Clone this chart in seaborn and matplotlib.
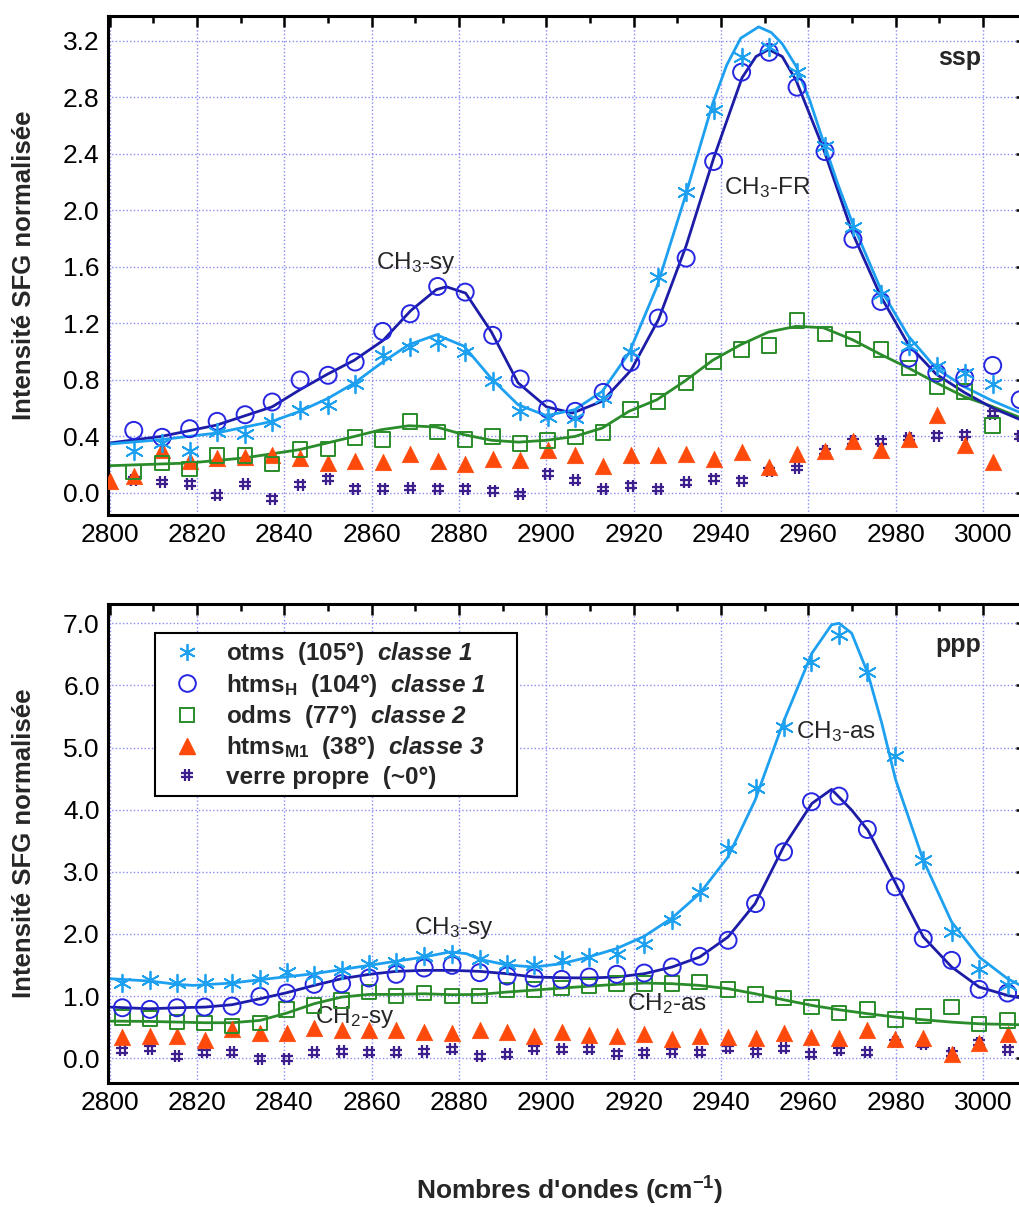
import matplotlib
matplotlib.use("Agg")
import matplotlib.pyplot as plt
from matplotlib.path import Path
from matplotlib.lines import Line2D
from matplotlib.ticker import MultipleLocator, FormatStrFormatter
import seaborn as sns

# ---------------- ssp panel (top) ----------------
ssp_x = [2805.5, 2812, 2818.3, 2824.6, 2831, 2837.2, 2843.6, 2850, 2856.2, 2862.5,
         2868.8, 2875.1, 2881.4, 2887.7, 2894, 2900.3, 2906.6, 2913, 2919.3, 2925.6,
         2932, 2938.3, 2944.7, 2951, 2957.4, 2963.8, 2970.2, 2976.6, 2983, 2989.4,
         2995.8, 3002.2]
ssp_otms = [0.30, 0.354, 0.30, 0.43, 0.42, 0.50, 0.59, 0.62, 0.77, 0.98,
            1.03, 1.07, 1.00, 0.79, 0.58, 0.54, 0.53, 0.67, 1.00, 1.53,
            2.13, 2.71, 3.09, 3.16, 2.98, 2.46, 1.88, 1.41, 1.04, 0.90,
            0.85, 0.77]
ssp_htmsH = [0.443, 0.394, 0.455, 0.507, 0.554, 0.644, 0.80, 0.833, 0.927, 1.144,
             1.269, 1.462, 1.422, 1.116, 0.807, 0.594, 0.578, 0.712, 0.925, 1.238,
             1.663, 2.347, 2.979, 3.12, 2.873, 2.417, 1.797, 1.356, 0.955, 0.849,
             0.814, 0.903, 0.66]
ssp_odms = [0.149, 0.212, 0.170, 0.264, 0.264, 0.205, 0.307, 0.311, 0.394, 0.377,
            0.507, 0.432, 0.377, 0.401, 0.352, 0.373, 0.396, 0.429, 0.590, 0.649,
            0.778, 0.932, 1.014, 1.045, 1.222, 1.127, 1.090, 1.014, 0.884, 0.755,
            0.719, 0.476]
ssp_htmsM1 = [0.083, 0.12, 0.307, 0.224, 0.248, 0.252, 0.271, 0.248, 0.212, 0.229, 0.219,
              0.278, 0.224, 0.205, 0.241, 0.233, 0.302, 0.267, 0.189, 0.271, 0.271,
              0.278, 0.241, 0.290, 0.184, 0.278, 0.295, 0.366, 0.307, 0.382, 0.554,
              0.342, 0.217]
ssp_verre = [0.094, 0.078, 0.066, -0.017, 0.064, -0.040, 0.059, 0.101, 0.031, 0.031,
             0.035, 0.031, 0.031, 0.017, -0.007, 0.137, 0.090, 0.028, 0.052, 0.028,
             0.075, 0.101, 0.087, 0.158, 0.177, 0.295, 0.366, 0.366, 0.389, 0.406,
             0.413, 0.561, 0.40]

# fitted curves
ssp_fit_otms_x = [2800, 2811.7, 2824.4, 2837.2, 2843.5, 2850, 2856, 2862.2, 2868.5, 2874.8,
                  2881.1, 2887.4, 2893.5, 2900, 2906.5, 2912.8, 2918.9, 2925.3, 2931.6, 2938.1,
                  2941.3, 2944.5, 2948.6, 2951.5, 2954, 2957.2, 2960.3, 2963.4, 2966.7, 2970.1,
                  2976.6, 2982.9, 2989.3, 2995.8, 3002.3, 3010]
ssp_fit_otms_y = [0.347, 0.377, 0.424, 0.507, 0.578, 0.67, 0.778, 0.92, 1.05, 1.12,
                  1.04, 0.81, 0.625, 0.547, 0.59, 0.72, 0.99, 1.46, 2.08, 2.76,
                  3.03, 3.22, 3.30, 3.26, 3.18, 3.02, 2.78, 2.49, 2.19, 1.91,
                  1.44, 1.11, 0.88, 0.75, 0.65, 0.55]
ssp_fit_htmsH_x = [2800, 2811.7, 2824.4, 2837.2, 2843.5, 2849.8, 2856, 2862.6, 2868.9, 2874.8,
                   2877.1, 2881.5, 2887.4, 2893.5, 2900, 2906, 2912.8, 2919.4, 2925.7, 2932,
                   2938.4, 2944.8, 2948, 2950.9, 2954, 2957.2, 2963.4, 2970.1, 2976.6, 2982.9,
                   2989.3, 2995.8, 3002.3, 3010]
ssp_fit_htmsH_y = [0.354, 0.40, 0.48, 0.61, 0.73, 0.84, 0.94, 1.08, 1.29, 1.44,
                   1.46, 1.415, 1.14, 0.78, 0.61, 0.566, 0.65, 0.87, 1.23, 1.75,
                   2.38, 2.94, 3.09, 3.14, 3.09, 2.92, 2.44, 1.84, 1.39, 1.05,
                   0.84, 0.71, 0.60, 0.50]
ssp_fit_odms_x = [2800, 2818.1, 2830.8, 2843.5, 2856, 2862.2, 2868.5, 2874.8, 2881.1, 2887.4,
                  2893.6, 2900, 2906.5, 2912.8, 2918.9, 2925.3, 2931.6, 2938.1, 2944.5, 2950.9,
                  2957.2, 2963.4, 2970.1, 2976.6, 2982.9, 2989.3, 2995.8, 3002.3, 3008]
ssp_fit_odms_y = [0.193, 0.212, 0.248, 0.307, 0.40, 0.448, 0.476, 0.467, 0.413, 0.373,
                  0.36, 0.373, 0.40, 0.46, 0.578, 0.66, 0.79, 0.94, 1.05, 1.14,
                  1.18, 1.17, 1.085, 0.98, 0.885, 0.78, 0.68, 0.61, 0.54]

# ---------------- ppp panel (bottom) ----------------
ppp_x = [2802.9, 2809.2, 2815.4, 2821.7, 2828.0, 2834.4, 2840.5, 2846.8, 2853.1, 2859.4,
         2865.6, 2872.0, 2878.4, 2884.7, 2891.0, 2897.2, 2903.5, 2909.8, 2916.1, 2922.4,
         2928.8, 2935.1, 2941.6, 2947.9, 2954.3, 2960.7, 2967.0, 2973.5, 2979.9, 2986.3,
         2992.8, 2999.1, 3005.6]
ppp_otms = [1.209, 1.252, 1.214, 1.214, 1.209, 1.279, 1.386, 1.333, 1.424, 1.521,
            1.548, 1.644, 1.682, 1.601, 1.521, 1.494, 1.574, 1.628, 1.682, 1.832,
            2.219, 2.676, 3.375, 4.342, 5.336, 6.384, 6.814, 6.223, 4.868, 3.186,
            2.031, 1.440, 1.171]
ppp_htmsH = [0.811, 0.785, 0.811, 0.822, 0.838, 0.994, 1.048, 1.188, 1.198, 1.290,
             1.349, 1.451, 1.494, 1.376, 1.322, 1.290, 1.268, 1.306, 1.349, 1.370,
             1.467, 1.639, 1.897, 2.488, 3.321, 4.127, 4.218, 3.681, 2.757, 1.924,
             1.574, 1.107, 1.048]
ppp_odms = [0.650, 0.634, 0.580, 0.564, 0.516, 0.564, 0.779, 0.849, 0.930, 1.064,
            0.999, 1.048, 0.999, 0.999, 1.097, 1.102, 1.128, 1.161, 1.198, 1.198,
            1.198, 1.225, 1.107, 1.021, 0.967, 0.822, 0.725, 0.779, 0.623, 0.677,
            0.822, 0.553, 0.607]
ppp_htmsM1 = [0.339, 0.349, 0.349, 0.296, 0.473, 0.403, 0.403, 0.489, 0.446, 0.446,
              0.446, 0.419, 0.408, 0.446, 0.427, 0.349, 0.419, 0.376, 0.355, 0.382,
              0.312, 0.349, 0.339, 0.328, 0.403, 0.339, 0.328, 0.457, 0.312, 0.328,
              0.070, 0.242, 0.392]
ppp_verre = [0.124, 0.150, 0.027, 0.097, 0.097, -0.011, -0.011, 0.097, 0.107, 0.097,
             0.097, 0.107, 0.140, 0.032, 0.062, 0.150, 0.140, 0.140, 0.070, 0.086,
             0.107, 0.097, 0.161, 0.107, 0.161, 0.059, 0.124, 0.097, 0.258, 0.220,
             0.081, 0.247, 0.134]

ppp_fit_otms_x = [2800, 2809.2, 2815.4, 2819.1, 2828.0, 2834.4, 2846.8, 2859.4, 2872.0, 2877.9,
                  2881.7, 2884.7, 2891.0, 2897.2, 2903.5, 2909.7, 2916.0, 2922.4, 2928.8, 2935.1,
                  2941.6, 2947.8, 2954.3, 2960.8, 2965.3, 2967.0, 2969.9, 2973.6, 2976.8, 2980.0,
                  2986.3, 2992.8, 2999.1, 3005.6, 3010]
ppp_fit_otms_y = [1.279, 1.241, 1.188, 1.171, 1.209, 1.263, 1.359, 1.494, 1.628, 1.709,
                  1.682, 1.591, 1.50, 1.467, 1.521, 1.628, 1.762, 1.961, 2.257, 2.649,
                  3.24, 4.154, 5.416, 6.518, 6.975, 7.0, 6.84, 6.196, 5.39, 4.476,
                  3.186, 2.192, 1.628, 1.279, 1.12]
ppp_fit_htmsH_x = [2800, 2809.2, 2815.4, 2821.8, 2828.0, 2834.4, 2840.5, 2846.8, 2853.1, 2859.4,
                   2865.6, 2872.0, 2878.4, 2884.7, 2891.0, 2897.2, 2903.5, 2909.7, 2916.0, 2922.4,
                   2928.8, 2935.1, 2941.6, 2947.8, 2954.3, 2960.8, 2965.3, 2969.9, 2973.6, 2980.0,
                   2986.3, 2992.8, 2999.1, 3005.6, 3010]
ppp_fit_htmsH_y = [0.822, 0.795, 0.811, 0.822, 0.860, 0.956, 1.053, 1.171, 1.279, 1.349,
                   1.397, 1.413, 1.413, 1.397, 1.359, 1.306, 1.295, 1.29, 1.306, 1.359,
                   1.467, 1.628, 1.951, 2.488, 3.401, 4.1, 4.326, 3.993, 3.67, 2.81,
                   1.951, 1.467, 1.145, 1.01, 0.95]
ppp_fit_odms_x = [2800, 2809.2, 2821.8, 2828.0, 2834.4, 2840.5, 2846.8, 2853.1, 2859.4, 2865.6,
                  2872.0, 2878.4, 2884.7, 2891.0, 2903.5, 2916.0, 2922.4, 2928.8, 2935.1, 2941.6,
                  2947.8, 2954.3, 2960.8, 2967.0, 2973.6, 2980.0, 2986.3, 2992.8, 2999.1, 3005.6,
                  3010]
ppp_fit_odms_y = [0.596, 0.591, 0.570, 0.570, 0.607, 0.725, 0.876, 0.983, 1.026, 1.026,
                  1.037, 1.021, 1.026, 1.064, 1.128, 1.188, 1.209, 1.198, 1.171, 1.118,
                  1.037, 0.940, 0.849, 0.779, 0.715, 0.661, 0.618, 0.580, 0.553, 0.543,
                  0.535]

legend_labels = [r"otms  (105°)  $\mathbfit{classe\ 1}$",
                 r"htms$_\mathbf{H}$  (104°)  $\mathbfit{classe\ 1}$",
                 r"odms  (77°)  $\mathbfit{classe\ 2}$",
                 r"htms$_\mathbf{M1}$  (38°)  $\mathbfit{classe\ 3}$",
                 "verre propre  (~0°)"]

c_otms = "#1ea0f0"
c_htmsH = "#2626e0"
c_htmsH_line = "#1c1ca6"
c_odms = "#2a8c2a"
c_htmsM1 = "#ff4a0c"
c_verre = "#3c1e8c"

# '#' marker drawn as four strokes
hash_marker = Path([(-0.4, -1), (-0.4, 1), (0.4, -1), (0.4, 1),
                    (-1, -0.4), (1, -0.4), (-1, 0.4), (1, 0.4)],
                   [Path.MOVETO, Path.LINETO] * 4)
star_marker = (6, 2, 0)

sns.set_theme(style="white")
plt.rcParams['font.family'] = ['Liberation Sans', 'DejaVu Sans']
plt.rcParams['mathtext.fontset'] = 'custom'
plt.rcParams['mathtext.rm'] = 'Liberation Sans'
plt.rcParams['mathtext.it'] = 'Liberation Sans:italic'
plt.rcParams['mathtext.bf'] = 'Liberation Sans:bold'
plt.rcParams['mathtext.bfit'] = 'Liberation Sans:italic:bold'

fig = plt.figure(figsize=(10.19, 12.07), dpi=100)
W = 918.75 / 1019
ax1 = fig.add_axes([108 / 1019, 1 - 515 / 1207, W, 499 / 1207])
ax2 = fig.add_axes([108 / 1019, 1 - 1083 / 1207, W, 479 / 1207])


def draw_points(ax, x, y, kind):
    if kind == "otms":
        sns.scatterplot(x=x, y=y, ax=ax, marker=star_marker, s=160, color=c_otms,
                        linewidth=1.3, zorder=4, legend=False)
    elif kind == "htmsH":
        sns.scatterplot(x=x, y=y, ax=ax, marker="o", s=150, facecolor="none",
                        edgecolor=c_htmsH, linewidth=1.4, zorder=4, legend=False)
    elif kind == "odms":
        sns.scatterplot(x=x, y=y, ax=ax, marker="s", s=110, facecolor="none",
                        edgecolor=c_odms, linewidth=1.4, zorder=4, legend=False)
    elif kind == "htmsM1":
        sns.scatterplot(x=x, y=y, ax=ax, marker="^", s=140, color=c_htmsM1,
                        edgecolor=c_htmsM1, linewidth=0.5, zorder=3, legend=False)
    else:
        sns.scatterplot(x=x, y=y, ax=ax, marker=hash_marker, s=75, facecolor="none",
                        edgecolor=c_verre, linewidth=1.6, zorder=3, legend=False)


def draw_fit(ax, x, y, color):
    sns.lineplot(x=x, y=y, ax=ax, color=color, linewidth=2.0, sort=False,
                 estimator=None, legend=False, zorder=2)


def style_axis(ax, ylo, yhi, ymaj, ymin):
    ax.set_xlim(2799.6, 3010)
    ax.set_ylim(ylo, yhi)
    ax.xaxis.set_major_locator(MultipleLocator(20))
    ax.xaxis.set_minor_locator(MultipleLocator(10))
    ax.yaxis.set_major_locator(MultipleLocator(ymaj))
    ax.yaxis.set_minor_locator(MultipleLocator(ymin))
    ax.yaxis.set_major_formatter(FormatStrFormatter('%.1f'))
    ax.xaxis.set_major_formatter(FormatStrFormatter('%d'))
    ax.tick_params(which='both', direction='in', top=True, right=True, width=1.8,
                   labelsize=19, colors='black', pad=6)
    ax.tick_params(which='major', length=8)
    ax.tick_params(which='minor', length=5)
    ax.set_axisbelow(True)
    ax.grid(True, which='major', color='#8a8af5', linestyle=(0, (1, 1.6)), linewidth=1.0)
    for sp in ax.spines.values():
        sp.set_linewidth(2.2)
        sp.set_color('black')
    ax.set_xlabel("")
    ax.set_ylabel("Intensité SFG normalisée", fontsize=18.5, fontweight='bold')
    ax.yaxis.set_label_coords(-0.078, 0.5)


# top panel
draw_fit(ax1, ssp_fit_odms_x, ssp_fit_odms_y, c_odms)
draw_fit(ax1, ssp_fit_htmsH_x, ssp_fit_htmsH_y, c_htmsH_line)
draw_fit(ax1, ssp_fit_otms_x, ssp_fit_otms_y, c_otms)
draw_points(ax1, ssp_x + [3008.5], ssp_verre, "verre")
draw_points(ax1, [2800] + ssp_x, ssp_htmsM1, "htmsM1")
draw_points(ax1, ssp_x, ssp_odms, "odms")
draw_points(ax1, ssp_x + [3008.5], ssp_htmsH, "htmsH")
draw_points(ax1, ssp_x, ssp_otms, "otms")
style_axis(ax1, -0.156, 3.377, 0.4, 0.2)
ax1.text(2870, 1.63, r"CH$_3$-sy", fontsize=17.5, ha='center', va='center')
ax1.text(2950.6, 2.16, r"CH$_3$-FR", fontsize=17.5, ha='center', va='center')
ax1.text(2994.7, 3.08, "ssp", fontsize=18, fontweight='bold', ha='center', va='center')

# bottom panel
draw_fit(ax2, ppp_fit_odms_x, ppp_fit_odms_y, c_odms)
draw_fit(ax2, ppp_fit_htmsH_x, ppp_fit_htmsH_y, c_htmsH_line)
draw_fit(ax2, ppp_fit_otms_x, ppp_fit_otms_y, c_otms)
draw_points(ax2, ppp_x, ppp_verre, "verre")
draw_points(ax2, ppp_x, ppp_htmsM1, "htmsM1")
draw_points(ax2, ppp_x, ppp_odms, "odms")
draw_points(ax2, ppp_x, ppp_htmsH, "htmsH")
draw_points(ax2, ppp_x, ppp_otms, "otms")
style_axis(ax2, -0.40, 7.31, 1.0, 0.5)
ax2.text(2878.9, 2.09, r"CH$_3$-sy", fontsize=17.5, ha='center', va='center')
ax2.text(2856.2, 0.66, r"CH$_2$-sy", fontsize=17.5, ha='center', va='center')
ax2.text(2966.3, 5.26, r"CH$_3$-as", fontsize=17.5, ha='center', va='center')
ax2.text(2927.6, 0.876, r"CH$_2$-as", fontsize=17.5, ha='center', va='center')
ax2.text(2994.3, 6.65, "ppp", fontsize=18, fontweight='bold', ha='center', va='center')

handles = [
    Line2D([], [], linestyle='none', marker=star_marker, markersize=12, color=c_otms, markeredgewidth=1.3),
    Line2D([], [], linestyle='none', marker='o', markersize=12, markerfacecolor='none',
           markeredgecolor=c_htmsH, markeredgewidth=1.4),
    Line2D([], [], linestyle='none', marker='s', markersize=10.5, markerfacecolor='none',
           markeredgecolor=c_odms, markeredgewidth=1.4),
    Line2D([], [], linestyle='none', marker='^', markersize=12, color=c_htmsM1),
    Line2D([], [], linestyle='none', marker=hash_marker, markersize=8.5, markerfacecolor='none',
           markeredgecolor=c_verre, markeredgewidth=1.6),
]
leg = ax2.legend(handles, legend_labels, loc='upper left', bbox_to_anchor=(0.0512, 0.9395),
                 borderaxespad=0, frameon=True, fancybox=False, framealpha=1,
                 edgecolor='black', prop={'weight': 'bold', 'size': 17.5},
                 handlelength=2.0, handletextpad=0.6, borderpad=0.3, labelspacing=0.18)
leg.get_frame().set_linewidth(1.5)
leg_texts = leg.get_texts()
leg_texts[4].set_text("verre propre  (~0°)" + " " * 11)

fig.text(570 / 1019, 1 - 1191 / 1207, r"Nombres d'ondes (cm$^{\mathbf{-1}}$)",
         fontsize=19, fontweight='bold', ha='center', va='center')

fig.savefig("out.png", dpi=100)
